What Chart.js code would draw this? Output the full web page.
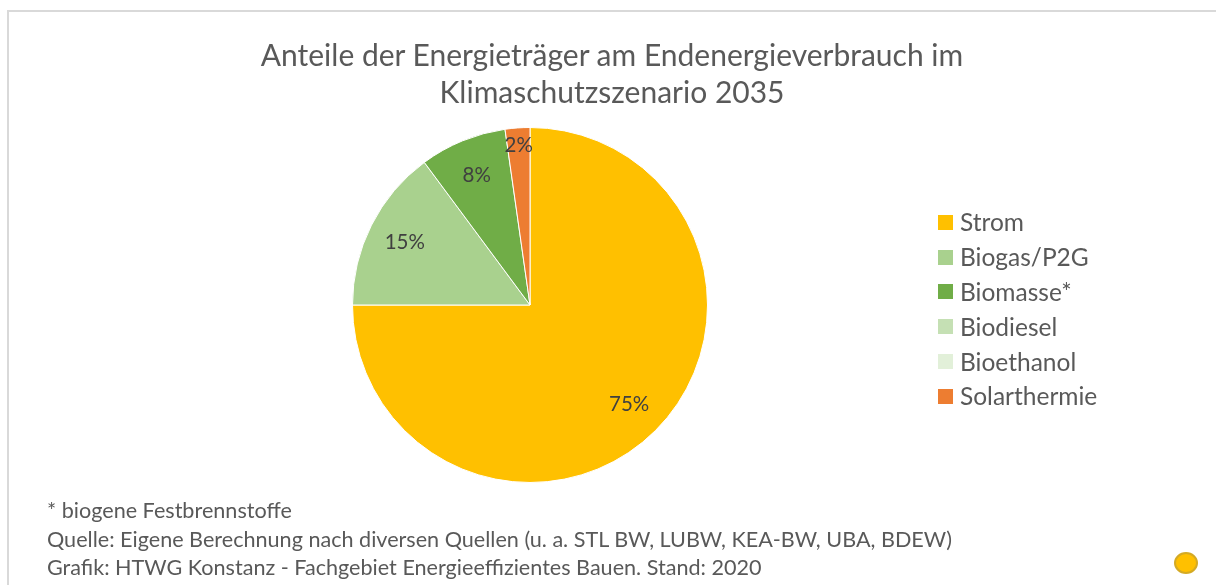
<!DOCTYPE html>
<html>
<head>
<meta charset="utf-8">
<script src="https://cdn.jsdelivr.net/npm/chart.js@4.4.1/dist/chart.umd.min.js"></script>
<style>
  html, body { margin: 0; padding: 0; background: #fff; }
  body { width: 1216px; height: 585px; position: relative; overflow: hidden; font-family: Lato, "Open Sans", sans-serif; color: #595959; }
  #frame { position: absolute; left: 7px; top: 10px; width: 1230px; height: 600px; border: 2px solid #d9d9d9; box-sizing: border-box; }
  #wrap { position: absolute; left: 0; top: 0; width: 1216px; height: 585px; }
  #title { position: absolute; left: 0; width: 1224px; top: 36px; text-align: center; font-size: 30px; line-height: 37px; color: #595959; }
  #legend { position: absolute; left: 938px; top: 205px; list-style: none; margin: 0; padding: 0; font-size: 24.5px; }
  #legend li { height: 34.8px; line-height: 30px; display: flex; align-items: center; }
  #legend span.box { width: 15px; height: 15px; margin-right: 7px; display: inline-block; }
  #notes { position: absolute; left: 47px; top: 496px; font-size: 21.6px; line-height: 28.5px; }
  #dot { position: absolute; left: 1174px; top: 552px; width: 20px; height: 18px; border-radius: 50%; background: #ffc000; border: 2px solid #d4aa24; }
</style>
</head>
<body>
<div id="frame"></div>
<div id="wrap"><canvas id="chart"></canvas></div>
<div id="title">Anteile der Energieträger am Endenergieverbrauch im<br>Klimaschutzszenario 2035</div>
<ul id="legend"></ul>
<div id="notes">
  <div>* biogene Festbrennstoffe</div>
  <div>Quelle: Eigene Berechnung nach diversen Quellen (u. a. STL BW, LUBW, KEA-BW, UBA, BDEW)</div>
  <div>Grafik: HTWG Konstanz - Fachgebiet Energieeffizientes Bauen. Stand: 2020</div>
</div>
<div id="dot"></div>
<script>
const categories = ['Strom', 'Biogas/P2G', 'Biomasse*', 'Biodiesel', 'Bioethanol', 'Solarthermie'];
const shares = [75.0, 14.85, 7.9, 0, 0, 2.25];
const colors = ['#ffc000', '#a9d18e', '#70ad47', '#c5e0b4', '#e2f0d9', '#ed7d31'];

// legend built from the same arrays
const legendEl = document.getElementById('legend');
categories.forEach((c, i) => {
  const li = document.createElement('li');
  li.innerHTML = '<span class="box" style="background:' + colors[i] + '"></span>' + c;
  legendEl.appendChild(li);
});

// percentage labels inside the slices
const sliceLabels = {
  id: 'sliceLabels',
  afterDatasetsDraw(chart) {
    const ctx = chart.ctx;
    const meta = chart.getDatasetMeta(0);
    const total = shares.reduce((a, b) => a + b, 0);
    ctx.save();
    ctx.font = '20.5px Lato, "Open Sans", sans-serif';
    ctx.fillStyle = '#404040';
    ctx.textAlign = 'center';
    ctx.textBaseline = 'middle';
    meta.data.forEach((arc, i) => {
      const v = shares[i];
      if (!v) return;
      const p = arc.getProps(['x', 'y', 'startAngle', 'endAngle', 'outerRadius'], true);
      const mid = (p.startAngle + p.endAngle) / 2;
      const f = v / total < 0.05 ? 0.9 : 0.79;
      const x = p.x + Math.cos(mid) * p.outerRadius * f;
      const y = p.y + Math.sin(mid) * p.outerRadius * f;
      ctx.fillText(Math.round(v / total * 100) + '%', x, y);
    });
    ctx.restore();
  }
};

new Chart(document.getElementById('chart'), {
  type: 'pie',
  data: {
    labels: categories,
    datasets: [{
      data: shares,
      backgroundColor: colors,
      borderColor: '#ffffff',
      borderWidth: 1
    }]
  },
  options: {
    responsive: true,
    maintainAspectRatio: false,
    animation: false,
    layout: { padding: { left: 352, right: 508, top: 127, bottom: 102 } },
    plugins: {
      legend: { display: false },
      title: { display: false },
      tooltip: { enabled: false }
    }
  },
  plugins: [sliceLabels]
});
</script>
</body>
</html>
